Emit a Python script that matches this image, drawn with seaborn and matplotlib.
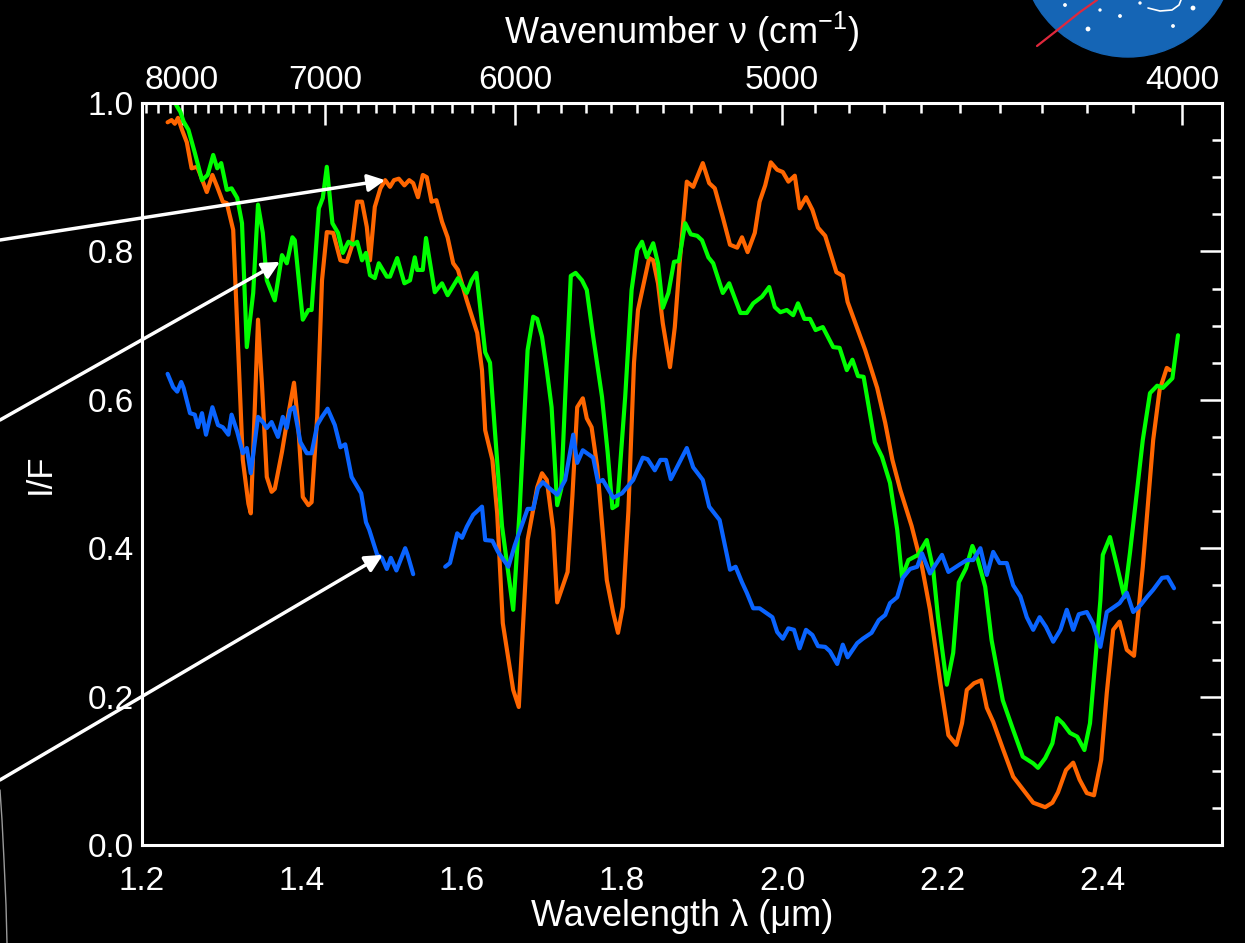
import numpy as np
import pandas as pd
import seaborn as sns
import matplotlib
matplotlib.use("Agg")
import matplotlib.pyplot as plt
from matplotlib.ticker import MultipleLocator, FixedLocator, FormatStrFormatter
from matplotlib.patches import Circle

# espectros (comprimento de onda em um, I/F)
orange_wl = [1.232, 1.237, 1.241, 1.245, 1.250, 1.256, 1.262, 1.269, 1.273, 1.281, 1.288, 1.294, 1.301, 1.306,
             1.314, 1.326, 1.333, 1.336, 1.340, 1.345, 1.350, 1.356, 1.362, 1.366, 1.375, 1.381, 1.390, 1.395,
             1.401, 1.408, 1.412, 1.419, 1.425, 1.431, 1.439, 1.448, 1.456, 1.462, 1.469, 1.475, 1.481, 1.485,
             1.491, 1.498, 1.504, 1.510, 1.515, 1.521, 1.528, 1.534, 1.539, 1.545, 1.551, 1.556, 1.562, 1.568,
             1.575, 1.582, 1.589, 1.595, 1.606, 1.619, 1.625, 1.629, 1.638, 1.644, 1.651, 1.664, 1.671, 1.676,
             1.682, 1.694, 1.700, 1.706, 1.714, 1.719, 1.732, 1.738, 1.744, 1.751, 1.756, 1.762, 1.769, 1.781,
             1.789, 1.795, 1.801, 1.808, 1.815, 1.820, 1.829, 1.834, 1.839, 1.845, 1.851, 1.860, 1.866, 1.872,
             1.881, 1.889, 1.901, 1.909, 1.916, 1.926, 1.935, 1.944, 1.950, 1.957, 1.966, 1.972, 1.979, 1.986,
             1.994, 2.001, 2.008, 2.016, 2.022, 2.030, 2.038, 2.045, 2.054, 2.068, 2.076, 2.082, 2.104, 2.119,
             2.129, 2.138, 2.148, 2.162, 2.175, 2.185, 2.198, 2.208, 2.218, 2.225, 2.231, 2.240, 2.249, 2.256,
             2.264, 2.276, 2.289, 2.314, 2.329, 2.338, 2.345, 2.355, 2.364, 2.372, 2.381, 2.390, 2.399, 2.406,
             2.414, 2.422, 2.431, 2.440, 2.451, 2.464, 2.472, 2.481, 2.485]
orange_if = [0.974, 0.977, 0.972, 0.980, 0.964, 0.947, 0.912, 0.914, 0.903, 0.880, 0.903, 0.887, 0.867, 0.865,
             0.829, 0.519, 0.460, 0.447, 0.560, 0.708, 0.620, 0.496, 0.476, 0.480, 0.530, 0.569, 0.623, 0.570,
             0.469, 0.458, 0.462, 0.577, 0.761, 0.826, 0.825, 0.788, 0.786, 0.806, 0.867, 0.867, 0.833, 0.788,
             0.860, 0.885, 0.896, 0.887, 0.896, 0.898, 0.889, 0.896, 0.892, 0.873, 0.903, 0.900, 0.867, 0.869,
             0.840, 0.819, 0.784, 0.775, 0.734, 0.690, 0.640, 0.559, 0.519, 0.447, 0.299, 0.209, 0.186, 0.290,
             0.411, 0.482, 0.501, 0.492, 0.425, 0.327, 0.368, 0.470, 0.590, 0.602, 0.575, 0.563, 0.510, 0.357,
             0.313, 0.286, 0.321, 0.450, 0.650, 0.721, 0.766, 0.791, 0.788, 0.757, 0.703, 0.644, 0.698, 0.784,
             0.894, 0.887, 0.919, 0.892, 0.885, 0.846, 0.809, 0.805, 0.819, 0.799, 0.825, 0.867, 0.889, 0.920,
             0.910, 0.907, 0.894, 0.902, 0.858, 0.873, 0.856, 0.832, 0.821, 0.772, 0.767, 0.732, 0.667, 0.616,
             0.569, 0.519, 0.478, 0.430, 0.375, 0.317, 0.218, 0.148, 0.135, 0.164, 0.209, 0.218, 0.222, 0.185,
             0.166, 0.130, 0.092, 0.057, 0.051, 0.057, 0.071, 0.101, 0.111, 0.088, 0.070, 0.067, 0.115, 0.205,
             0.290, 0.301, 0.263, 0.255, 0.375, 0.546, 0.613, 0.643, 0.640]

green_wl = [1.239, 1.244, 1.248, 1.252, 1.258, 1.266, 1.275, 1.282, 1.289, 1.294, 1.299, 1.306, 1.312, 1.319,
            1.325, 1.331, 1.339, 1.345, 1.351, 1.356, 1.366, 1.375, 1.381, 1.388, 1.391, 1.401, 1.408, 1.412,
            1.421, 1.426, 1.431, 1.438, 1.445, 1.451, 1.458, 1.464, 1.469, 1.475, 1.480, 1.485, 1.491, 1.496,
            1.506, 1.510, 1.519, 1.528, 1.535, 1.541, 1.544, 1.551, 1.555, 1.566, 1.575, 1.582, 1.595, 1.606,
            1.612, 1.618, 1.629, 1.635, 1.641, 1.650, 1.664, 1.672, 1.682, 1.689, 1.694, 1.700, 1.706, 1.712,
            1.719, 1.724, 1.729, 1.736, 1.742, 1.750, 1.756, 1.764, 1.775, 1.782, 1.788, 1.794, 1.804, 1.812,
            1.819, 1.825, 1.831, 1.839, 1.845, 1.851, 1.858, 1.865, 1.871, 1.879, 1.886, 1.894, 1.900, 1.908,
            1.914, 1.926, 1.934, 1.948, 1.956, 1.964, 1.975, 1.984, 1.991, 1.998, 2.006, 2.014, 2.020, 2.028,
            2.035, 2.042, 2.051, 2.064, 2.072, 2.081, 2.088, 2.095, 2.102, 2.116, 2.125, 2.135, 2.144, 2.150,
            2.158, 2.170, 2.181, 2.189, 2.195, 2.206, 2.214, 2.221, 2.230, 2.238, 2.245, 2.254, 2.262, 2.276,
            2.289, 2.301, 2.314, 2.320, 2.329, 2.338, 2.344, 2.351, 2.360, 2.369, 2.378, 2.385, 2.391, 2.398,
            2.401, 2.410, 2.419, 2.428, 2.435, 2.451, 2.460, 2.469, 2.476, 2.488, 2.495]
green_if = [1.005, 0.995, 0.988, 0.975, 0.964, 0.933, 0.896, 0.903, 0.930, 0.912, 0.919, 0.883, 0.885, 0.872,
            0.838, 0.671, 0.744, 0.863, 0.825, 0.761, 0.734, 0.795, 0.784, 0.819, 0.815, 0.708, 0.721, 0.721,
            0.858, 0.872, 0.914, 0.838, 0.825, 0.798, 0.813, 0.809, 0.813, 0.788, 0.798, 0.768, 0.764, 0.784,
            0.766, 0.766, 0.791, 0.757, 0.761, 0.792, 0.775, 0.775, 0.818, 0.745, 0.757, 0.741, 0.764, 0.744,
            0.761, 0.771, 0.664, 0.650, 0.560, 0.430, 0.317, 0.450, 0.667, 0.712, 0.709, 0.685, 0.640, 0.590,
            0.458, 0.480, 0.604, 0.767, 0.771, 0.761, 0.748, 0.685, 0.604, 0.530, 0.454, 0.458, 0.604, 0.748,
            0.802, 0.813, 0.792, 0.811, 0.784, 0.724, 0.744, 0.786, 0.787, 0.838, 0.823, 0.821, 0.815, 0.792,
            0.784, 0.744, 0.757, 0.717, 0.717, 0.730, 0.739, 0.752, 0.725, 0.718, 0.721, 0.714, 0.730, 0.709,
            0.709, 0.694, 0.698, 0.671, 0.670, 0.640, 0.654, 0.632, 0.631, 0.543, 0.523, 0.488, 0.425, 0.361,
            0.384, 0.391, 0.411, 0.371, 0.307, 0.216, 0.259, 0.354, 0.373, 0.403, 0.384, 0.348, 0.276, 0.195,
            0.155, 0.119, 0.110, 0.104, 0.117, 0.137, 0.171, 0.164, 0.151, 0.146, 0.128, 0.164, 0.240, 0.330,
            0.391, 0.415, 0.375, 0.334, 0.394, 0.546, 0.609, 0.619, 0.616, 0.629, 0.687]

# o espectro azul tem uma lacuna entre 1.54 e 1.58 um (nan)
blue_wl = [1.232, 1.239, 1.244, 1.249, 1.252, 1.260, 1.266, 1.270, 1.275, 1.280, 1.288, 1.295, 1.301, 1.308,
           1.312, 1.319, 1.326, 1.331, 1.336, 1.345, 1.351, 1.356, 1.362, 1.370, 1.376, 1.381, 1.385, 1.390,
           1.398, 1.406, 1.412, 1.419, 1.425, 1.432, 1.441, 1.448, 1.454, 1.462, 1.474, 1.480, 1.484, 1.494,
           1.500, 1.506, 1.511, 1.518, 1.529, 1.532, 1.539, 1.560,
           1.579, 1.585, 1.594, 1.600, 1.606, 1.614, 1.625, 1.629, 1.638, 1.645, 1.658, 1.666, 1.682, 1.689,
           1.695, 1.701, 1.708, 1.719, 1.729, 1.739, 1.744, 1.751, 1.764, 1.770, 1.776, 1.789, 1.800, 1.814,
           1.826, 1.832, 1.841, 1.848, 1.855, 1.861, 1.881, 1.889, 1.901, 1.909, 1.922, 1.935, 1.942, 1.950,
           1.956, 1.964, 1.972, 1.988, 1.994, 2.001, 2.008, 2.015, 2.022, 2.030, 2.038, 2.045, 2.054, 2.060,
           2.069, 2.076, 2.082, 2.094, 2.101, 2.112, 2.121, 2.129, 2.135, 2.144, 2.151, 2.160, 2.169, 2.175,
           2.185, 2.192, 2.200, 2.208, 2.222, 2.231, 2.239, 2.248, 2.256, 2.264, 2.272, 2.281, 2.289, 2.298,
           2.306, 2.314, 2.322, 2.330, 2.339, 2.348, 2.356, 2.364, 2.371, 2.381, 2.389, 2.398, 2.406, 2.414,
           2.422, 2.431, 2.439, 2.448, 2.456, 2.464, 2.475, 2.482, 2.490]
blue_if = [0.635, 0.617, 0.611, 0.624, 0.616, 0.582, 0.580, 0.563, 0.582, 0.553, 0.590, 0.566, 0.563, 0.553,
           0.580, 0.557, 0.528, 0.535, 0.501, 0.577, 0.570, 0.562, 0.570, 0.550, 0.577, 0.562, 0.586, 0.590,
           0.543, 0.528, 0.528, 0.566, 0.577, 0.588, 0.566, 0.536, 0.540, 0.496, 0.474, 0.435, 0.425, 0.391,
           0.387, 0.372, 0.387, 0.370, 0.400, 0.391, 0.365, np.nan,
           0.375, 0.380, 0.420, 0.414, 0.429, 0.445, 0.456, 0.411, 0.410, 0.395, 0.375, 0.404, 0.453, 0.453,
           0.481, 0.489, 0.482, 0.472, 0.492, 0.553, 0.515, 0.532, 0.522, 0.489, 0.492, 0.468, 0.474, 0.492,
           0.522, 0.520, 0.505, 0.519, 0.519, 0.493, 0.535, 0.509, 0.492, 0.456, 0.438, 0.371, 0.375, 0.354,
           0.340, 0.319, 0.319, 0.307, 0.287, 0.278, 0.292, 0.290, 0.265, 0.290, 0.283, 0.268, 0.267, 0.261,
           0.244, 0.270, 0.253, 0.272, 0.278, 0.286, 0.303, 0.310, 0.326, 0.334, 0.360, 0.372, 0.375, 0.393,
           0.366, 0.378, 0.391, 0.368, 0.378, 0.384, 0.384, 0.400, 0.364, 0.395, 0.380, 0.380, 0.350, 0.335,
           0.307, 0.290, 0.307, 0.294, 0.274, 0.290, 0.317, 0.290, 0.311, 0.314, 0.298, 0.267, 0.314, 0.320,
           0.326, 0.340, 0.314, 0.323, 0.334, 0.344, 0.360, 0.361, 0.346]

colors = {"orange": "#ff6600", "green": "#00ff00", "blue": "#0a64ff"}

# numeros de onda marcados no eixo de cima
wn_major = [8000, 7000, 6000, 5000, 4000]
wn_minor = [w for w in range(4100, 8400, 100) if w % 1000 != 0]

# setas: ponta nos dados (um, I/F), cauda na borda esquerda da figura
arrow_tips = [(1.504, 0.896), (1.3725, 0.786), (1.501, 0.391)]
arrow_tails = [(0.0, 0.7455), (0.0, 0.5546), (0.0, 0.1729)]

# monta tabela longa, separando segmentos nos nan
frames = []
for name, wl, val in [("orange", orange_wl, orange_if), ("green", green_wl, green_if), ("blue", blue_wl, blue_if)]:
    d = pd.DataFrame({"wl": wl, "IF": val})
    d["seg"] = name + d["IF"].isna().cumsum().astype(str)
    d["series"] = name
    frames.append(d.dropna())
df = pd.concat(frames, ignore_index=True)

sns.set_style("dark")
plt.rcParams["font.family"] = ["Liberation Sans", "DejaVu Sans"]
plt.rcParams["mathtext.fontset"] = "custom"
plt.rcParams["mathtext.rm"] = "Liberation Sans"
plt.rcParams["mathtext.it"] = "Liberation Sans"

fig = plt.figure(figsize=(12.45, 9.43), dpi=100, facecolor="black")

# fundo: logo e arco decorativos em pixels
bg = fig.add_axes([0, 0, 1, 1], zorder=0)
bg.set_xlim(0, 1245)
bg.set_ylim(943, 0)
bg.axis("off")
bg.add_patch(Circle((1128, -50), 107, color="#1565b5", zorder=1))
bg.plot([1037, 1060, 1080, 1097], [46, 28, 12, 0], color="#e0283c", lw=1.6, zorder=2)
bg.plot([1148, 1160, 1172, 1179, 1181], [8, 11, 10, 5, 0], color="white", lw=1.2, zorder=2)
bg.scatter([1088, 1120, 1173, 1193, 1065, 1140, 1100], [29, 16, 26, 8, 5, 3, 10], s=[6, 3, 3, 6, 3, 2, 2],
           color="white", zorder=3)
bg.plot([0, 2, 4, 6, 7], [790, 820, 860, 905, 943], color="#9a9a9a", lw=1.0)

ax = fig.add_axes([142 / 1245, 1 - 845 / 943, 1080 / 1245, 742 / 943], zorder=2)
ax.set_facecolor("none")

sns.lineplot(data=df, x="wl", y="IF", hue="series", units="seg", estimator=None, sort=False,
             palette=colors, legend=False, lw=3.0, ax=ax)

ax.set_xlim(1.2, 2.55)
ax.set_ylim(0, 1.0)
ax.grid(False)
for s in ax.spines.values():
    s.set_color("white")
    s.set_linewidth(2.2)

ax.xaxis.set_major_locator(MultipleLocator(0.2))
ax.xaxis.set_minor_locator(MultipleLocator(0.05))
ax.yaxis.set_major_locator(MultipleLocator(0.2))
ax.yaxis.set_minor_locator(MultipleLocator(0.05))
ax.xaxis.set_major_formatter(FormatStrFormatter("%.1f"))
ax.yaxis.set_major_formatter(FormatStrFormatter("%.1f"))
ax.tick_params(which="both", direction="in", colors="white", width=1.8, top=False, right=True,
               labelsize=24)
ax.tick_params(which="major", length=16)
ax.tick_params(which="minor", length=7.5)
ax.tick_params(axis="x", which="major", pad=15)
ax.tick_params(axis="y", which="major", pad=6)

ax.set_xlabel("Wavelength λ (μm)", color="white", fontsize=26)
ax.xaxis.set_label_coords(0.5, -0.096)
ax.xaxis.label.set_va("center")
ax.set_ylabel("I/F", color="white", fontsize=25)
ax.yaxis.set_label_coords(-0.094, 0.50)
ax.yaxis.label.set_va("center")

top = ax.secondary_xaxis("top", functions=(lambda x: 1e4 / x, lambda x: 1e4 / x))
top.set_xticks(wn_major)
top.xaxis.set_minor_locator(FixedLocator(wn_minor))
top.tick_params(which="both", direction="in", colors="white", width=1.8, labelsize=24)
top.tick_params(which="major", length=16, pad=5)
top.tick_params(which="minor", length=7.5)
top.spines["top"].set_visible(False)
ax.text(0.5, 1.0957, "Wavenumber ν (cm$^{-1}$)", transform=ax.transAxes, color="white", fontsize=26,
        ha="center", va="center")

for tip, tail in zip(arrow_tips, arrow_tails):
    ax.annotate("", xy=tip, xycoords="data", xytext=tail, textcoords="figure fraction",
                annotation_clip=False,
                arrowprops=dict(arrowstyle="-|>", color="white", lw=2.5, mutation_scale=26,
                                shrinkA=0, shrinkB=0))

fig.savefig("out.png", dpi=100, facecolor="black")
